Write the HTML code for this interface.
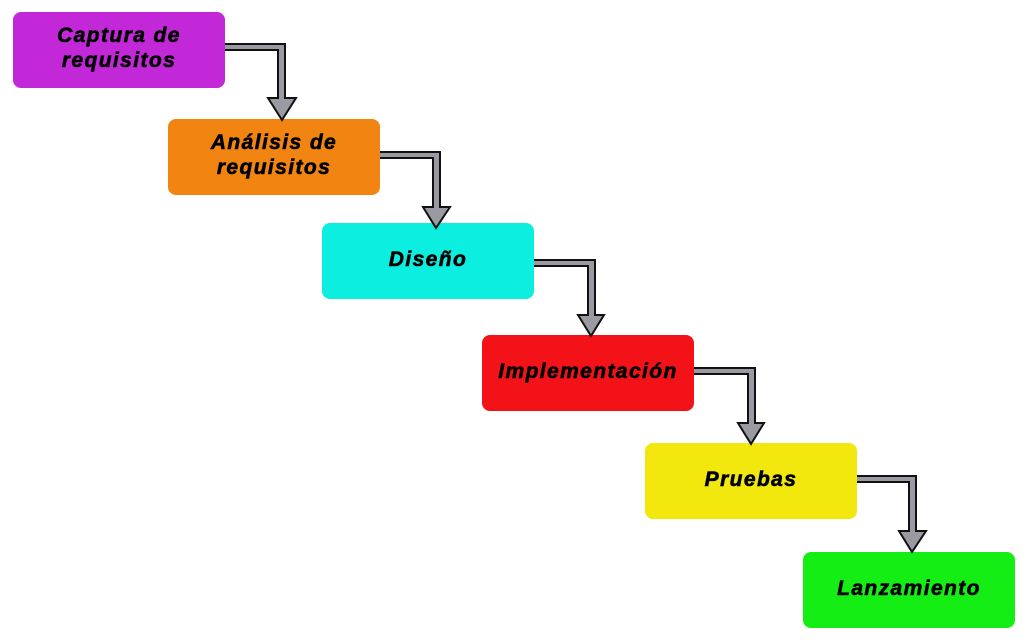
<!DOCTYPE html>
<html><head><style>
body{margin:0;width:1028px;height:640px;background:#fff;position:relative;overflow:hidden;font-family:"Liberation Sans",sans-serif}
.b{position:absolute;box-sizing:border-box;padding-bottom:4px;width:212px;height:76px;border-radius:8px;display:flex;align-items:center;justify-content:center;text-align:center;font-weight:bold;font-style:italic;font-size:21px;line-height:25px;color:#000;letter-spacing:1.4px;-webkit-text-stroke:0.6px #000}
svg{position:absolute;left:0;top:0}
</style></head><body>
<div class="b" style="left:13px;top:12px;background:#c228d8">Captura de<br>requisitos</div>
<div class="b" style="left:168px;top:119px;background:#f28512">Análisis de<br>requisitos</div>
<div class="b" style="left:322px;top:223px;background:#0ceee0">Diseño</div>
<div class="b" style="left:482px;top:335px;background:#f31218">Implementación</div>
<div class="b" style="left:645px;top:443px;background:#f2e80e">Pruebas</div>
<div class="b" style="left:803px;top:552px;background:#14ee14">Lanzamiento</div>
<svg width="1028" height="640">
<g fill="#9a9aa2" stroke="#111" stroke-width="2" stroke-linejoin="miter">
<path d="M225 44 H285 V98 H296 L282 120 L268 98 H278 V50 H225"/>
<path d="M380 152 H440 V207 H450 L436 228 L423 207 H433 V158 H380"/>
<path d="M534 260 H595 V315 H604 L591 336 L578 315 H588 V266 H534"/>
<path d="M694 368 H755 V423 H764 L751 444 L738 423 H748 V374 H694"/>
<path d="M857 476 H916 V531 H926 L912 552 L899 531 H909 V482 H857"/>
</g>
</svg>
</body></html>
